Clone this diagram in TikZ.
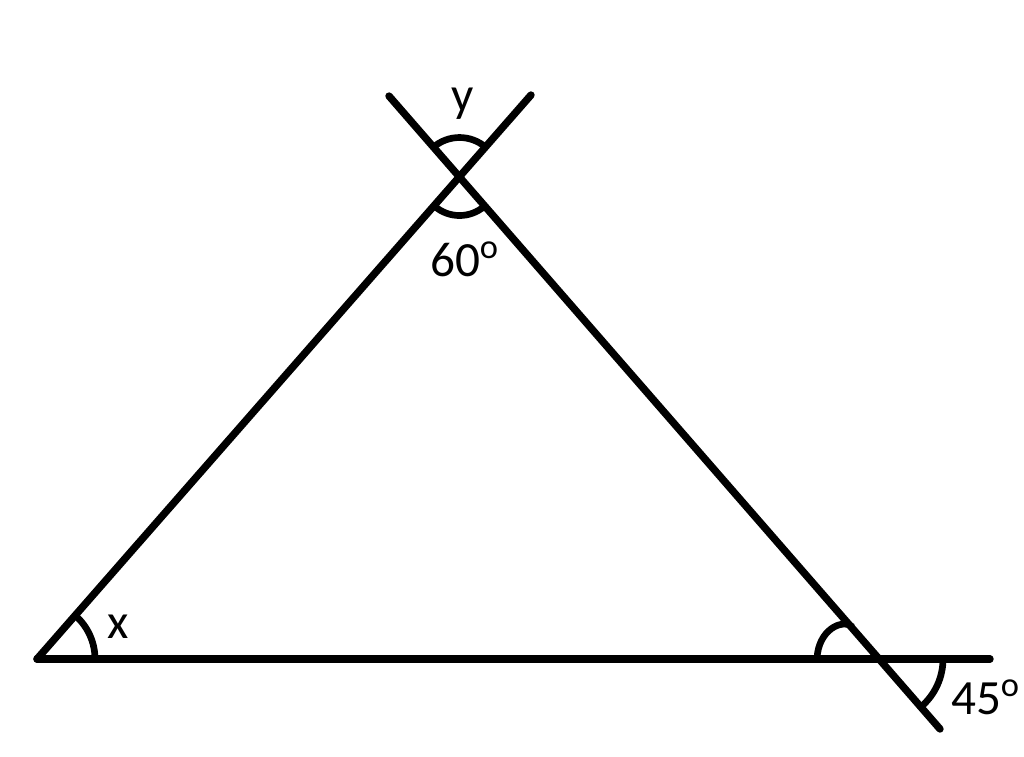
\documentclass[tikz,border=0pt]{standalone}
\usepackage{fontspec}
\setmainfont{Carlito}
\begin{document}
\begin{tikzpicture}[x=0.01cm,y=-0.01cm,
  thick line/.style={line width=2.1pt,line cap=round},
  angle arc/.style={line width=1.9pt},
  lbl/.style={font=\fontsize{14}{16}\selectfont,inner sep=0pt}]
\useasboundingbox[fill=white] (0,0) rectangle (1024,756);
\coordinate (A) at (37,659);
\coordinate (P) at (459.5,177.5);
\coordinate (B) at (880,659);
\coordinate (L) at (531,95);
\coordinate (R) at (389,96);
\coordinate (Rend) at (940,729);
\coordinate (Bend) at (990,659);
% lines
\draw[thick line] (A) -- (L);
\draw[thick line] (R) -- (Rend);
\draw[thick line] (A) -- (Bend);
% angle arcs (y axis flipped, so angles are mirrored)
\draw[angle arc] ([shift={(-131.3:40)}]P) arc[start angle=-131.3,end angle=-48.9,radius=40];
\draw[angle arc] ([shift={(48.7:38)}]P) arc[start angle=48.7,end angle=131.1,radius=38];
\draw[angle arc] ([shift={(0:58)}]A) arc[start angle=0,end angle=-48.7,radius=58];
\draw[angle arc] (817,659) .. controls (818,630) and (842,618) .. (853,627);
\draw[angle arc] ([shift={(0:63)}]B) arc[start angle=0,end angle=48.9,radius=63];
% labels
\node[lbl] (ly) at (463,104) {y};
\node[lbl] (l60) at (465,259) {60\textsuperscript{o}};
\node[lbl] (lx) at (118,627) {x};
\node[lbl] (l45) at (986,697) {45\textsuperscript{o}};
\end{tikzpicture}
\end{document}
